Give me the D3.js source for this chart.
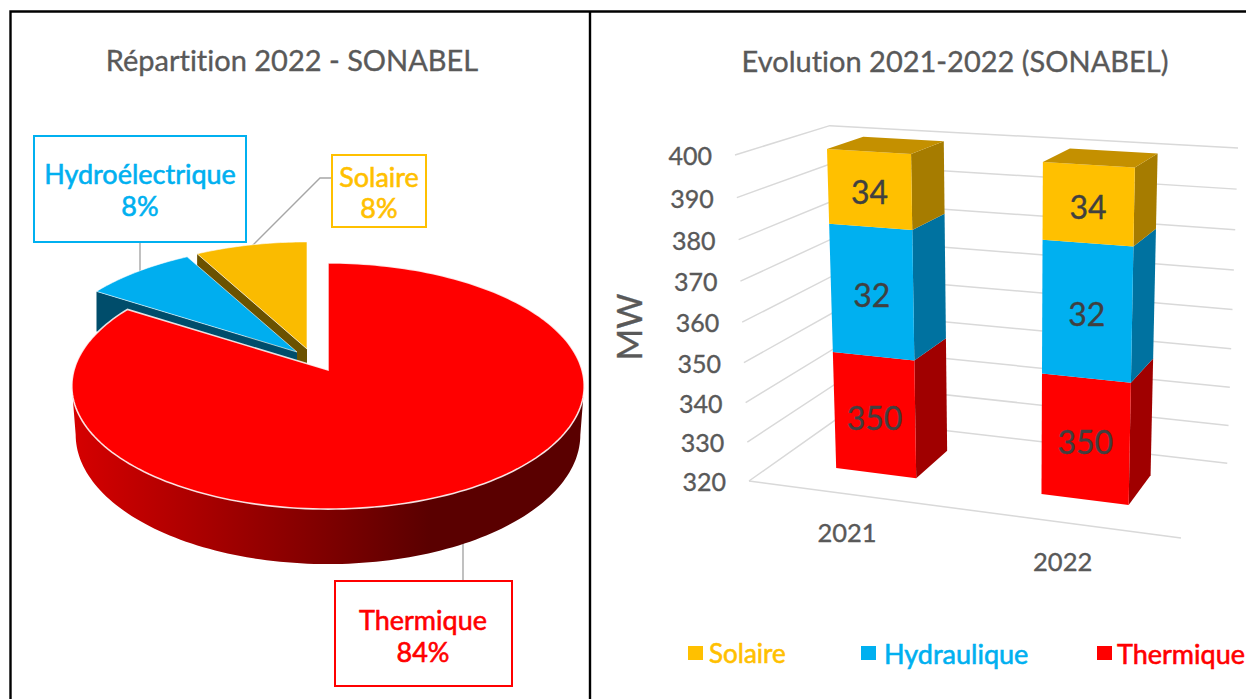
<!DOCTYPE html>
<html><head><meta charset="utf-8">
<script src="https://cdn.jsdelivr.net/npm/d3@7"></script>
<style>html,body{margin:0;padding:0;background:#fff}svg{display:block}text{font-family:Lato,"Open Sans",sans-serif;font-variant-ligatures:none}</style>
</head><body><svg id="c" width="1246" height="699"></svg>
<script>
// ---------- data ----------
const pieLabels = ["Thermique", "Hydroélectrique", "Solaire"];
const pieValues = [84, 8, 8];
const barCategories = ["2021", "2022"];
const barSeriesNames = ["Thermique", "Hydraulique", "Solaire"];
const thermique = [350, 350];
const hydraulique = [32, 32];
const solaire = [34, 34];
const valueTicks = [320, 330, 340, 350, 360, 370, 380, 390, 400];
const legendOrder = ["Solaire", "Hydraulique", "Thermique"];
const pieTitle = "Répartition 2022 - SONABEL";
const barTitle = "Evolution 2021-2022 (SONABEL)";
const axisTitle = "MW";

// ---------- styles ----------
const RED = "#ff0000", BLUE = "#00b0f0", YEL = "#ffc000", GREY = "#595959";
const svg = d3.select("#c");
const defs = svg.append("defs");
const grad = defs.append("linearGradient").attr("id", "wall").attr("gradientUnits", "userSpaceOnUse")
  .attr("x1", 72).attr("x2", 430).attr("y1", 0).attr("y2", 0);
grad.append("stop").attr("offset", 0).attr("stop-color", "#d60000");
grad.append("stop").attr("offset", 1).attr("stop-color", "#5a0000");

// frame
const frame = svg.append("g").attr("stroke", "#000").attr("stroke-width", 2.4).attr("fill", "none");
frame.append("path").attr("d", "M10.5,699V11.5H1246");
frame.append("path").attr("d", "M590,11.5V699");

function txt(s, x, y, size, fill, anchor = "middle", bold = 0.35) {
  return svg.append("text").attr("x", x).attr("y", y).attr("font-size", size).attr("fill", fill)
    .attr("stroke", fill).attr("stroke-width", bold)
    .attr("text-anchor", anchor).attr("dominant-baseline", "central").text(s);
}
txt(pieTitle, 292, 59, 29, GREY);
txt(barTitle, 955, 60, 29, GREY);

// ---------- pie (perspective disc) ----------
const PC = {cx: 328, cy: 370, k: 0.13, a: 121, R: 254};
function disc(theta, r = 1) {
  const u = r * Math.sin(theta), v = r * Math.cos(theta), d = 1 + PC.k * v;
  return [PC.cx + PC.R * u / d, PC.cy - PC.a * v / d];
}
const arcs = d3.pie().sort(null).startAngle(0).endAngle(2 * Math.PI)(pieValues);
const line = d3.line();
function rim(a0, a1, n = 80) { return d3.range(n + 1).map(i => disc(a0 + (a1 - a0) * i / n)); }
function shift(p, o) { return [p[0] + o[0], p[1] + o[1]]; }

const explode = [[0, 0], [-31, -18], [-21, -21]];
const pieFill = [RED, "#00aeef", "#fabb00"];
const cutFill = [null, "#004d6b", "#6b5200"];
const cutDepth = 40;

// leaders (behind the pie)
const leaders = svg.append("g").attr("stroke", "#a6a6a6").attr("stroke-width", 1.4).attr("fill", "none");
leaders.append("path").attr("d", "M140,242V274");
leaders.append("path").attr("d", "M332,178H320L250,248");
leaders.append("path").attr("d", "M463,540V581");

const pieG = svg.append("g");
// draw order: solaire, hydro, then thermique on top
[2, 1].forEach(i => {
  const a = arcs[i], o = explode[i];
  const apex = shift([PC.cx, PC.cy], o);
  const corner = shift(disc(a.startAngle), o);
  pieG.append("path").attr("fill", cutFill[i])
    .attr("d", line([corner, apex, shift(apex, [0, cutDepth]), shift(corner, [0, cutDepth])]) + "Z");
  const pts = [apex].concat(rim(a.startAngle, a.endAngle, 30).map(p => shift(p, o)));
  pieG.append("path").attr("fill", pieFill[i]).attr("stroke", "#fff").attr("stroke-opacity", .6).attr("stroke-width", 1)
    .attr("d", line(pts) + "Z");
});
// thermique wall
const thL = Math.acos(-PC.k), thR = 2 * Math.PI - thL;
const upper = rim(thL, thR, 120);
const lower = d3.range(121).map(i => {
  const t = thL + (thR - thL) * i / 120, p = disc(t), d = 1 + PC.k * Math.cos(t);
  return [PC.cx + (p[0] - PC.cx) * 0.985, p[1] + 55 * 0.87 / d];
}).reverse();
pieG.append("path").attr("fill", "url(#wall)").attr("d", line(upper.concat(lower)) + "Z");
const a0 = arcs[0];
pieG.append("path").attr("fill", RED).attr("stroke", "#fff").attr("stroke-opacity", .85).attr("stroke-width", 1.6)
  .attr("d", line([[PC.cx, PC.cy]].concat(rim(a0.startAngle, a0.endAngle, 200))) + "Z");

// pie callouts
const callouts = [
  {i: 1, box: [34, 136, 212, 106], c: BLUE, tx: 140, ty: [173, 205]},
  {i: 2, box: [332, 155, 94, 72], c: YEL, tx: 379, ty: [176, 207]},
  {i: 0, box: [335, 581, 177, 105], c: RED, tx: 423, ty: [619, 651]}
];
callouts.forEach(c => {
  svg.append("rect").attr("x", c.box[0]).attr("y", c.box[1]).attr("width", c.box[2]).attr("height", c.box[3])
    .attr("fill", "#fff").attr("stroke", c.c).attr("stroke-width", 2);
  const name = c.i === 2 ? "Solaire" : pieLabels[c.i];
  txt(name, c.tx, c.ty[0], 27, c.c, "middle", 0.6);
  txt(pieValues[c.i] + "%", c.tx, c.ty[1], 27, c.c, "middle", 0.6);
});

// ---------- 3D bars ----------
// projective camera: h = O + X*A + Y*B + Z*C
const O = [749, 481, 1], A = [331.6, 11.3, -0.085], B = [-50.75, -333.75, -0.05], C = [189.6, -12.8, 0.12];
function cam(X, Y, Z) {
  const h = [0, 1, 2].map(i => O[i] + X * A[i] + Y * B[i] + Z * C[i]);
  return [h[0] / h[2], h[1] / h[2]];
}
const yS = d3.scaleLinear().domain([320, 400]).range([0, 1]).clamp(true);
const xS = d3.scaleBand().domain(barCategories).range([0, 1]).paddingInner(0.6).paddingOuter(0.3);
const zFront = 0.30, zBack = 0.71;

const grid = svg.append("g").attr("stroke", "#d9d9d9").attr("stroke-width", 1.5).attr("fill", "none");
valueTicks.forEach(v => {
  const Y = yS(v);
  grid.append("path").attr("d", line([cam(0, Y, 0), cam(0, Y, 1), cam(1, Y, 1)]));
  const p = cam(0, Y, 0);
  txt(String(v), p[0] - 23, p[1], 25, GREY, "end");
});
grid.append("path").attr("d", line([cam(0, 0, 0), cam(1, 0, 0)]));

const seriesVals = [thermique, hydraulique, solaire];
const stackData = barCategories.map((c, j) => {
  const o = {cat: c};
  barSeriesNames.forEach((n, s) => o[n] = seriesVals[s][j]);
  return o;
});
const stacked = d3.stack().keys(barSeriesNames)(stackData);
const frontC = {Thermique: RED, Hydraulique: BLUE, Solaire: YEL};
const sideC = {Thermique: "#a00000", Hydraulique: "#0072a0", Solaire: "#a67c00"};
const topC = {Thermique: "#c00000", Hydraulique: "#0085b5", Solaire: "#c49000"};
const bars = svg.append("g");
stacked.forEach(layer => {
  layer.forEach((d, j) => {
    const cat = barCategories[j], x0 = xS(cat), x1 = x0 + xS.bandwidth();
    const y0 = yS(d[0]), y1 = yS(d[1]);
    bars.append("path").attr("fill", sideC[layer.key])
      .attr("d", line([cam(x1, y0, zFront), cam(x1, y0, zBack), cam(x1, y1, zBack), cam(x1, y1, zFront)]) + "Z");
    bars.append("path").attr("fill", frontC[layer.key])
      .attr("d", line([cam(x0, y0, zFront), cam(x1, y0, zFront), cam(x1, y1, zFront), cam(x0, y1, zFront)]) + "Z");
    if (layer.key === "Solaire") {
      bars.append("path").attr("fill", topC[layer.key])
        .attr("d", line([cam(x0, y1, zFront), cam(x1, y1, zFront), cam(x1, y1, zBack), cam(x0, y1, zBack)]) + "Z");
    }
  });
});
stacked.forEach(layer => {
  layer.forEach((d, j) => {
    const cat = barCategories[j], xm = xS(cat) + xS.bandwidth() / 2;
    const p = cam(xm, (yS(d[0]) + yS(d[1])) / 2, zFront);
    txt(String(d[1] - d[0]), p[0], p[1] + 2, 32, "#404040");
  });
});
barCategories.forEach(c => {
  const p = cam(xS(c) + xS.bandwidth() / 2, 0, 0);
  txt(c, p[0] - 3, p[1] + 38, 25.5, GREY);
});
txt(axisTitle, 0, 0, 34, GREY).attr("transform", "translate(628,327) rotate(-90)");

// legend
const legendX = {Solaire: [688, 709], Hydraulique: [861, 884], Thermique: [1097, 1117]};
legendOrder.forEach(n => {
  svg.append("rect").attr("x", legendX[n][0]).attr("y", 646).attr("width", 15).attr("height", 14).attr("fill", frontC[n]);
  txt(n, legendX[n][1], 653, n === "Solaire" ? 26 : 27, frontC[n], "start", 0.6);
});
</script></body></html>
